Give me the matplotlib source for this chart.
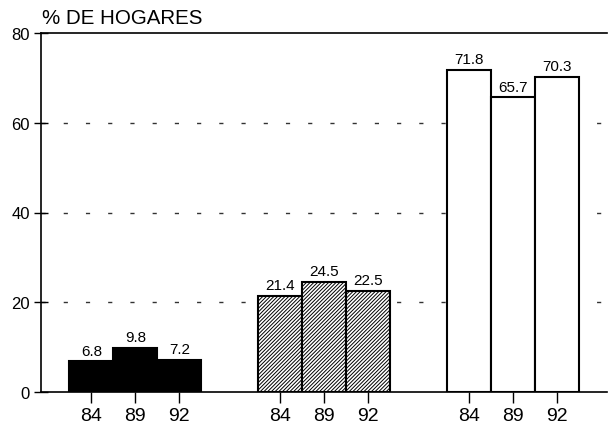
import matplotlib
matplotlib.use("Agg")
import matplotlib.pyplot as plt
import numpy as np

years = ["84", "89", "92"]
black_vals = [6.8, 9.8, 7.2]
hatch_vals = [21.4, 24.5, 22.5]
white_vals = [71.8, 65.7, 70.3]

plt.rcParams['font.family'] = ['Liberation Sans', 'DejaVu Sans']
plt.rcParams['hatch.linewidth'] = 0.7

fig = plt.figure(figsize=(6.09, 4.39), dpi=100)
ax = fig.add_axes([41/609, 46/439, 566/609, 359/439])

w = 0.233
offs = np.array([-w, 0, w])
groups = [(black_vals, 'black', None), (hatch_vals, 'white', '/////////'), (white_vals, 'white', None)]
ticks, labels = [], []
for g, (vals, fc, h) in enumerate(groups):
    xs = g + offs
    ax.bar(xs, vals, width=w, facecolor=fc, edgecolor='black', linewidth=1.5, hatch=h, zorder=3)
    for x, v in zip(xs, vals):
        ax.text(x, v + 0.8, f"{v:.1f}", ha='center', va='bottom', fontsize=11, zorder=4)
    ticks += list(xs)
    labels += years

ax.set_xlim(-0.5, 2.5)
ax.set_ylim(0, 80)
ax.set_yticks([0, 20, 40, 60, 80])
ax.set_xticks(ticks)
ax.set_xticklabels(labels, fontsize=14)
ax.tick_params(axis='x', direction='out', length=8, width=1, pad=3)
ax.tick_params(axis='y', direction='inout', length=10, width=1, labelsize=12, pad=3)
for y in [20, 40, 60]:
    ax.axhline(y, color='#333333', linewidth=1, linestyle=(0, (3, 13)), zorder=1)
ax.spines['right'].set_visible(False)
for s in ['left', 'top', 'bottom']:
    ax.spines[s].set_linewidth(1.2)

fig.text(42/609, 1 - 18/439, "% DE HOGARES", fontsize=14.8, ha='left', va='center')

fig.savefig("out.png", dpi=100)
